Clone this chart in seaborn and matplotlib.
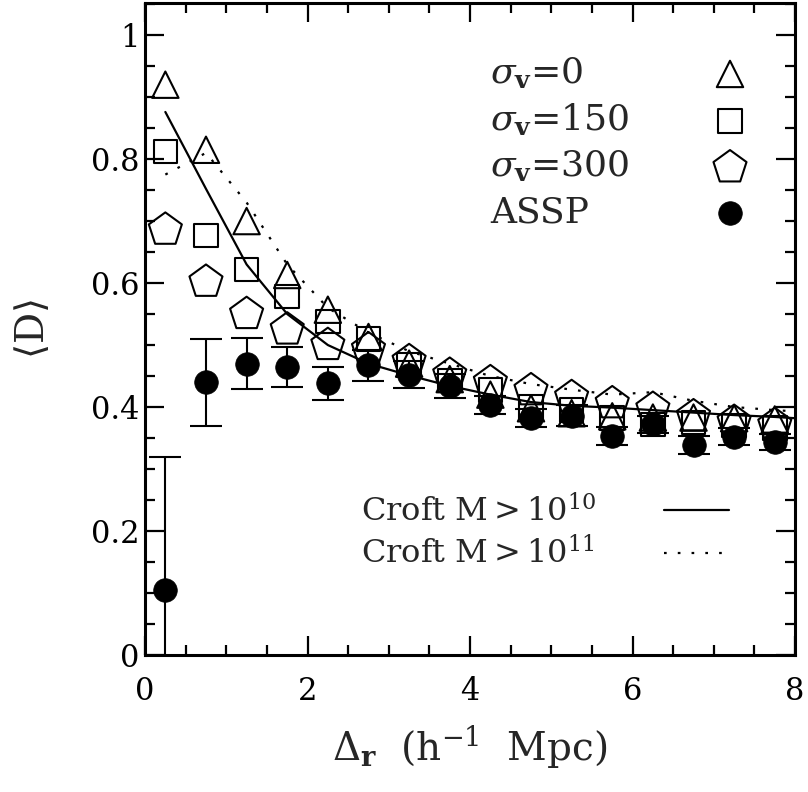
import numpy as np
import pandas as pd
import matplotlib
matplotlib.use('Agg')
import matplotlib.pyplot as plt
import seaborn as sns
from matplotlib.ticker import MultipleLocator

# separation bins (h^-1 Mpc)
sep_r = [0.25, 0.75, 1.25, 1.75, 2.25, 2.75, 3.25, 3.75,
         4.25, 4.75, 5.25, 5.75, 6.25, 6.75, 7.25, 7.75]

# mock catalogues, velocity dispersion 0 / 150 / 300
sigma0 = [0.920, 0.815, 0.700, 0.613, 0.557, 0.513, 0.470, 0.445,
          0.420, 0.398, 0.390, 0.385, 0.383, 0.383, 0.382, 0.380]
sigma150 = [0.812, 0.677, 0.622, 0.578, 0.538, 0.510, 0.468, 0.443,
            0.427, 0.400, 0.395, 0.382, 0.372, 0.375, 0.370, 0.366]
sigma300 = [0.686, 0.602, 0.550, 0.525, 0.500, 0.493, 0.474, 0.452,
            0.440, 0.427, 0.416, 0.406, 0.397, 0.385, 0.376, 0.371]

# ASSP measurement
assp = [0.105, 0.440, 0.470, 0.465, 0.438, 0.467, 0.452, 0.434,
        0.403, 0.382, 0.386, 0.353, 0.372, 0.339, 0.352, 0.343]
assp_err = [0.215, 0.070, 0.041, 0.032, 0.027, 0.025, 0.022, 0.019,
            0.015, 0.015, 0.017, 0.014, 0.014, 0.014, 0.014, 0.013]

# Croft et al. predictions
croft_r = sep_r + [8.0]
croft10 = [0.876, 0.752, 0.630, 0.550, 0.500, 0.470, 0.451, 0.434,
           0.420, 0.408, 0.402, 0.399, 0.395, 0.391, 0.387, 0.384, 0.382]
croft11 = [0.775, 0.810, 0.730, 0.630, 0.560, 0.520, 0.490, 0.470,
           0.450, 0.437, 0.428, 0.420, 0.424, 0.410, 0.400, 0.395, 0.393]

labels = [r'$\sigma_{\mathbf{v}}$=0', r'$\sigma_{\mathbf{v}}$=150',
          r'$\sigma_{\mathbf{v}}$=300', 'ASSP']
line_labels = [r'Croft M$>$10$^{10}$', r'Croft M$>$10$^{11}$']


def align_legend_text(fig, leg):
    # keep the label text left-aligned with the markers in one column on the right
    fig.canvas.draw()
    r = fig.canvas.get_renderer()
    rows = leg._legend_handle_box.get_children()[0].get_children()
    widths = [row.get_children()[0].get_bbox(r).width for row in rows]
    wmax = max(widths)
    for row, w in zip(rows, widths):
        row.sep += (wmax - w) * 72.0 / fig.dpi


def main():
    sns.set_theme(style='ticks')
    plt.rcParams['font.family'] = ['DejaVu Serif']
    plt.rcParams['mathtext.fontset'] = 'dejavuserif'

    fig = plt.figure(figsize=(8.08, 7.92), dpi=100)
    ax = fig.add_axes([0.1795, 0.173, 0.8045, 0.8226])

    df = pd.DataFrame({'r': croft_r, 'c10': croft10, 'c11': croft11})
    sns.lineplot(data=df, x='r', y='c10', ax=ax, color='black', lw=1.6)
    sns.lineplot(data=df, x='r', y='c11', ax=ax, color='black', lw=1.6,
                 dashes=False, linestyle=(0, (1.2, 5)))

    mk = dict(color='black', facecolor='none', edgecolor='black', linewidth=1.5)
    sns.scatterplot(x=sep_r, y=sigma0, ax=ax, marker='^', s=19**2, **mk)
    h0 = ax.collections[-1]
    sns.scatterplot(x=sep_r, y=sigma150, ax=ax, marker='s', s=17**2, **mk)
    h1 = ax.collections[-1]
    sns.scatterplot(x=sep_r, y=sigma300, ax=ax, marker='p', s=25**2, **mk)
    h2 = ax.collections[-1]

    ax.errorbar(sep_r, assp, yerr=assp_err, fmt='none', ecolor='black',
                elinewidth=1.5, capsize=11.5, capthick=1.5, zorder=3)
    sns.scatterplot(x=sep_r, y=assp, ax=ax, marker='o', s=17**2,
                    color='black', edgecolor='black', linewidth=0.5, zorder=4)
    h3 = ax.collections[-1]

    ax.set_xlim(0, 8)
    ax.set_ylim(0, 1.051)
    ax.xaxis.set_major_locator(MultipleLocator(2))
    ax.xaxis.set_minor_locator(MultipleLocator(0.5))
    ax.yaxis.set_major_locator(MultipleLocator(0.2))
    ax.yaxis.set_minor_locator(MultipleLocator(0.05))
    ax.set_xticks([0, 2, 4, 6, 8])
    ax.set_xticklabels(['0', '2', '4', '6', '8'])
    ax.set_yticks([0, 0.2, 0.4, 0.6, 0.8, 1.0])
    ax.set_yticklabels(['0', '0.2', '0.4', '0.6', '0.8', '1'])
    ax.tick_params(which='both', direction='in', top=True, right=True,
                   colors='black', labelsize=22)
    ax.tick_params(which='major', length=14, width=1.6)
    ax.tick_params(which='minor', length=7, width=1.6)
    ax.tick_params(axis='x', pad=15)
    ax.tick_params(axis='y', pad=4)
    for sp in ax.spines.values():
        sp.set_linewidth(2.2)
        sp.set_color('black')

    ax.set_xlabel(r'$\Delta_{\mathbf{r}}$  (h$^{-1}$  Mpc)', fontsize=28, labelpad=12)
    ax.set_ylabel(r'$\langle$D$\rangle$', fontsize=28, labelpad=28)

    leg1 = ax.legend([h0, h1, h2, h3], labels, loc='upper right',
                     bbox_to_anchor=(0.961, 0.948), frameon=False,
                     markerfirst=False, fontsize=26, labelspacing=0.3,
                     handletextpad=2.2, handlelength=1.2, borderpad=0)
    ax.add_artist(leg1)
    l10, l11 = ax.lines[0], ax.lines[1]
    leg2 = ax.legend([l10, l11], line_labels, loc='lower right',
                     bbox_to_anchor=(0.923, 0.104), frameon=False,
                     markerfirst=False, fontsize=23, labelspacing=0.3,
                     handletextpad=2.1, handlelength=2.03, borderpad=0)
    align_legend_text(fig, leg1)
    align_legend_text(fig, leg2)

    fig.savefig('out.png', dpi=100)
    plt.close(fig)


if __name__ == '__main__':
    main()
